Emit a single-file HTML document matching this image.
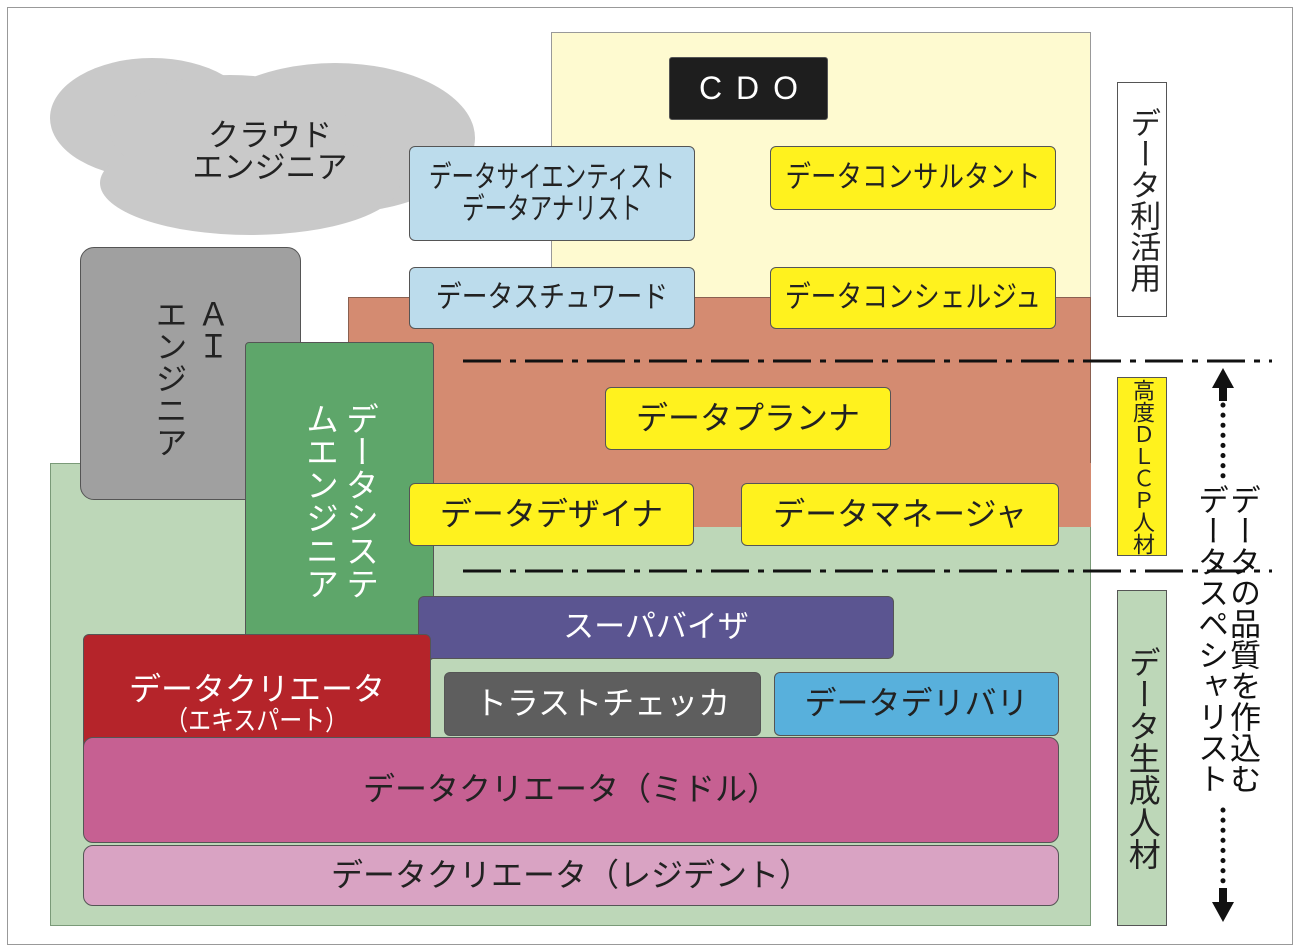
<!DOCTYPE html>
<html><head><meta charset="utf-8"><style>
body{margin:0;width:1300px;height:951px;background:#fff;position:relative;overflow:hidden;font-family:"Liberation Sans","Noto Sans CJK JP",sans-serif;}
.a{position:absolute;box-sizing:border-box;}
.b{position:absolute;box-sizing:border-box;border:1px solid #555;border-radius:6px;display:flex;align-items:center;justify-content:center;text-align:center;color:#222;font-size:32px;line-height:1.05;white-space:nowrap;}
.b>span{display:inline-block;}
.v{writing-mode:vertical-rl;text-align:start;white-space:nowrap;}
</style></head><body>
<div class="a" style="left:7px;top:7px;width:1286px;height:938px;border:1px solid #999;"></div>
<div class="a" style="left:551px;top:32px;width:540px;height:270px;background:#fefad0;border:1px solid #999;"></div>
<div class="a" style="left:348px;top:297px;width:743px;height:232px;background:#d48b71;border:1px solid #8a6050;"></div>
<div class="a" style="left:50px;top:463px;width:1041px;height:463px;background:#bdd7b8;border:1px solid #7a9a78;"></div>
<div class="a" style="left:348px;top:463px;width:743px;height:64px;background:#d48b71;"></div>
<svg class="a" style="left:0;top:0" width="700" height="260">
<g fill="#c9c9c9"><ellipse cx="152" cy="118" rx="102" ry="60"/><ellipse cx="335" cy="138" rx="140" ry="75"/><ellipse cx="250" cy="183" rx="150" ry="52"/><ellipse cx="230" cy="130" rx="120" ry="55"/></g>
<text x="270" y="146" font-size="31" text-anchor="middle" fill="#222" font-family="Liberation Sans,Noto Sans CJK JP,sans-serif">クラウド</text>
<text x="270" y="178" font-size="31" text-anchor="middle" fill="#222" font-family="Liberation Sans,Noto Sans CJK JP,sans-serif">エンジニア</text>
</svg>
<div class="b" style="left:80px;top:247px;width:221px;height:253px;background:#a0a0a0;border-radius:14px;align-items:flex-start;padding-top:50px;"><span class="v" style="font-size:32px;line-height:42px;">ＡＩ<br>エンジニア</span></div>
<div class="b" style="left:245px;top:342px;width:189px;height:318px;background:#5ea66a;color:#fff;border-radius:4px;"><span class="v" style="font-size:33px;line-height:40px;">データシステ<br>ムエンジニア</span></div>
<div class="b" style="left:669px;top:57px;width:159px;height:63px;background:#1e1e1e;color:#fff;border-radius:3px;font-size:32px;letter-spacing:14px;padding-left:14px;">CDO</div>
<div class="b" style="left:409px;top:146px;width:286px;height:95px;background:#bcdcec;font-size:30px;"><span style="transform:scaleX(0.75);">データサイエンティスト<br>データアナリスト</span></div>
<div class="b" style="left:770px;top:146px;width:286px;height:64px;background:#fff21e;font-size:30px;"><span style="transform:scaleX(0.85);">データコンサルタント</span></div>
<div class="b" style="left:409px;top:267px;width:286px;height:62px;background:#bcdcec;font-size:30px;"><span style="transform:scaleX(0.86);">データスチュワード</span></div>
<div class="b" style="left:770px;top:267px;width:286px;height:62px;background:#fff21e;font-size:30px;"><span style="transform:scaleX(0.86);">データコンシェルジュ</span></div>
<svg class="a" style="left:0;top:0" width="1300" height="951">
<g stroke="#111" stroke-width="3" stroke-dasharray="38 9 6 9"><line x1="463" y1="361" x2="1272" y2="361"/><line x1="463" y1="571" x2="1272" y2="571"/></g>
<line x1="1223" y1="405" x2="1223" y2="478" stroke="#111" stroke-width="5" stroke-dasharray="0.1 10" stroke-linecap="round"/>
<line x1="1223" y1="810" x2="1223" y2="888" stroke="#111" stroke-width="5" stroke-dasharray="0.1 10" stroke-linecap="round"/>
<rect x="1219" y="385" width="8" height="16" fill="#111"/><polygon points="1223,368 1212,388 1234,388" fill="#111"/>
<rect x="1219" y="888" width="8" height="16" fill="#111"/><polygon points="1223,922 1212,902 1234,902" fill="#111"/>
</svg>
<div class="b" style="left:605px;top:387px;width:286px;height:63px;background:#fff21e;">データプランナ</div>
<div class="b" style="left:409px;top:483px;width:285px;height:63px;background:#fff21e;">データデザイナ</div>
<div class="b" style="left:741px;top:483px;width:318px;height:63px;background:#fff21e;">データマネージャ</div>
<div class="b" style="left:418px;top:596px;width:476px;height:63px;background:#5b5591;color:#fff;font-size:31px;">スーパバイザ</div>
<div class="b" style="left:83px;top:634px;width:348px;height:135px;background:#b5242a;color:#fff;flex-direction:column;justify-content:flex-start;padding-top:38px;"><span>データクリエータ</span><span style="font-size:27px;transform:scaleX(0.85);">（エキスパート）</span></div>
<div class="b" style="left:444px;top:672px;width:317px;height:64px;background:#5e5e5e;color:#fff;">トラストチェッカ</div>
<div class="b" style="left:774px;top:672px;width:285px;height:64px;background:#58b0dc;">データデリバリ</div>
<div class="b" style="left:83px;top:737px;width:976px;height:106px;background:#c66092;border-radius:10px;">データクリエータ（ミドル）</div>
<div class="b" style="left:83px;top:845px;width:976px;height:61px;background:#d9a3c3;border-radius:10px;">データクリエータ（レジデント）</div>
<div class="b" style="left:1117px;top:82px;width:50px;height:235px;background:#fff;border-radius:0;"><span class="v" style="font-size:31px;">データ利活用</span></div>
<div class="b" style="left:1117px;top:377px;width:50px;height:179px;background:#fff21e;border-radius:0;"><span class="v" style="font-size:22px;line-height:1;">高度ＤＬＣＰ人材</span></div>
<div class="b" style="left:1117px;top:590px;width:50px;height:336px;background:#bdd7b8;border-radius:0;"><span class="v" style="font-size:32px;">データ生成人材</span></div>
<div class="a v" style="left:1190px;top:484px;width:68px;height:330px;font-size:31px;line-height:32px;color:#111;">データの品質を作込む<br>データスペシャリスト</div>
</body></html>
